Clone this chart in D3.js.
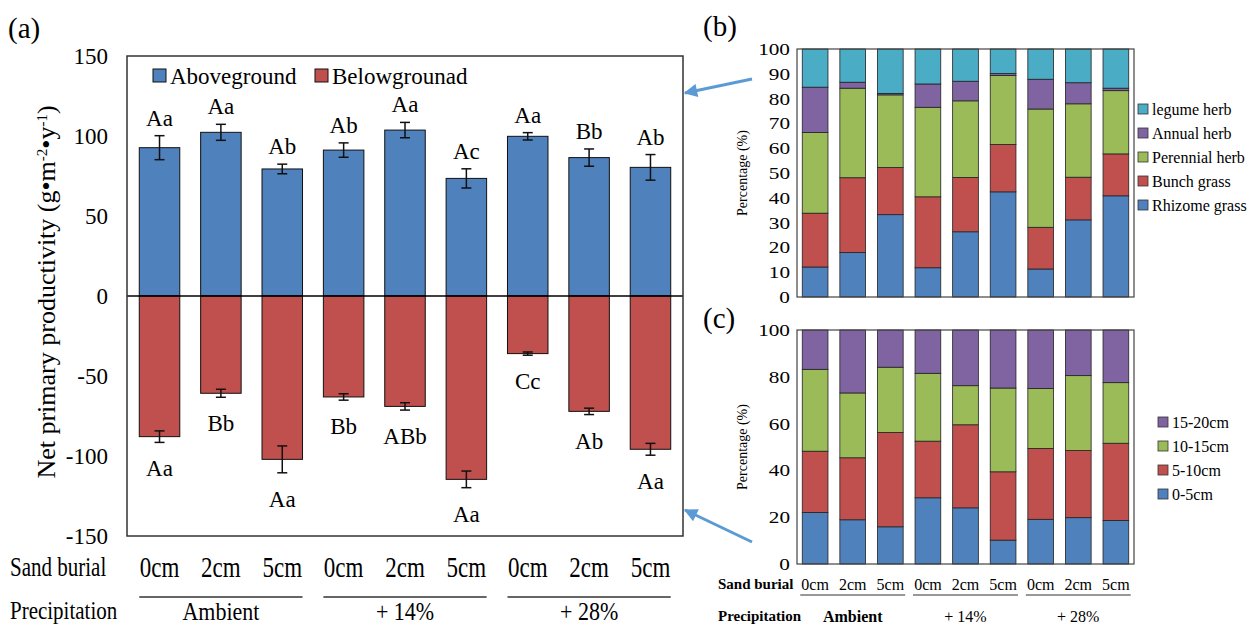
<!DOCTYPE html>
<html>
<head>
<meta charset="utf-8">
<script src="https://cdn.jsdelivr.net/npm/d3@7"></script>
<style>
  body { margin: 0; background: #fff; }
</style>
</head>
<body>
<svg width="1258" height="628"></svg>
<script>
// treatments
var burial = ["0cm", "2cm", "5cm", "0cm", "2cm", "5cm", "0cm", "2cm", "5cm"];
var precip = ["Ambient", "+ 14%", "+ 28%"];

// panel (a)
var above = [92.7, 102.3, 79.4, 91.2, 103.7, 73.5, 99.8, 86.5, 80.4];
var aboveErr = [7.5, 5, 3, 4.5, 4.8, 6, 2.3, 5.4, 8];
var below = [-87.9, -60.8, -102.1, -63.1, -69, -114.6, -36, -72.1, -95.8];
var belowErr = [3.6, 2.5, 8.4, 2, 2.3, 5.2, 1, 2, 3.7];
var aboveLetters = ["Aa", "Aa", "Ab", "Ab", "Aa", "Ac", "Aa", "Bb", "Ab"];
var belowLetters = ["Aa", "Bb", "Aa", "Bb", "ABb", "Aa", "Cc", "Ab", "Aa"];
var aTicks = [150, 100, 50, 0, -50, -100, -150];

// panel (b) functional groups (%)
var groupNames = ["Rhizome grass", "Bunch grass", "Perennial herb", "Annual herb", "legume herb"];
var rhizome = [12.1, 17.9, 33.2, 11.8, 26.3, 42.4, 11.3, 31.1, 40.8];
var bunch = [21.7, 30.2, 19.0, 28.6, 21.9, 19.1, 16.8, 17.2, 16.9];
var perennial = [32.5, 36.1, 29.3, 36.1, 30.9, 27.8, 47.7, 29.6, 25.5];
var annual = [18.3, 2.4, 0.6, 9.4, 7.9, 0.8, 12.0, 8.5, 1.0];
var legume = [15.4, 13.4, 17.9, 14.1, 13.0, 9.9, 12.2, 13.6, 15.8];
var bTicks = [0, 10, 20, 30, 40, 50, 60, 70, 80, 90, 100];

// panel (c) soil depth (%)
var depthNames = ["0-5cm", "5-10cm", "10-15cm", "15-20cm"];
var d0 = [22.0, 18.9, 15.9, 28.3, 24.0, 10.2, 19.1, 19.8, 18.6];
var d5 = [26.2, 26.5, 40.3, 24.2, 35.5, 29.2, 30.3, 28.7, 33.0];
var d10 = [35.0, 27.7, 27.9, 29.0, 16.7, 35.8, 25.6, 32.0, 25.9];
var d15 = [16.8, 26.9, 15.9, 18.5, 23.8, 24.8, 25.0, 19.5, 22.5];
var cTicks = [0, 20, 40, 60, 80, 100];

var blue = "#4f81bd", red = "#c0504d", green = "#9bbb59", purple = "#8064a2", cyan = "#4bacc6";
var serif = "'Liberation Serif', 'Times New Roman', serif";

var svg = d3.select("svg").style("font-family", serif);
var idx = d3.range(9);

// text that looks a bit stretched in the original figure
function stretched(parent, x, y, sx, sy) {
  return parent.append("text")
    .attr("transform", "translate(" + x + "," + y + ") scale(" + sx + "," + sy + ")")
    .attr("dy", "0.35em");
}

// ---------- panel (a) ----------
var xa = d3.scaleBand().domain(idx).range([127, 683]).paddingInner(0.34).paddingOuter(0.2);
var ya = d3.scaleLinear().domain([-150, 150]).range([536, 56]);

var ga = svg.append("g");

ga.selectAll(".tick-a").data(aTicks).enter().append("text")
  .attr("x", 108).attr("y", function(d) { return ya(d); })
  .attr("dy", "0.35em").attr("text-anchor", "end")
  .style("font-size", "23px").text(function(d) { return d; });

ga.selectAll(".bar-up").data(idx).enter().append("rect")
  .attr("x", function(i) { return xa(i); })
  .attr("width", xa.bandwidth())
  .attr("y", function(i) { return ya(above[i]); })
  .attr("height", function(i) { return ya(0) - ya(above[i]); })
  .style("fill", blue).style("stroke", "#111").style("stroke-width", 1);

ga.selectAll(".bar-down").data(idx).enter().append("rect")
  .attr("x", function(i) { return xa(i); })
  .attr("width", xa.bandwidth())
  .attr("y", ya(0))
  .attr("height", function(i) { return ya(below[i]) - ya(0); })
  .style("fill", red).style("stroke", "#111").style("stroke-width", 1);

function errorBars(vals, errs) {
  var g = ga.append("g").style("stroke", "#111").style("stroke-width", 1.5);
  idx.forEach(function(i) {
    var cx = xa(i) + xa.bandwidth() / 2;
    var y1 = ya(vals[i] + errs[i]), y2 = ya(vals[i] - errs[i]);
    g.append("line").attr("x1", cx).attr("x2", cx).attr("y1", y1).attr("y2", y2);
    g.append("line").attr("x1", cx - 5).attr("x2", cx + 5).attr("y1", y1).attr("y2", y1);
    g.append("line").attr("x1", cx - 5).attr("x2", cx + 5).attr("y1", y2).attr("y2", y2);
  });
}
errorBars(above, aboveErr);
errorBars(below, belowErr);

ga.selectAll(".lab-up").data(idx).enter().append("text")
  .attr("x", function(i) { return xa(i) + xa.bandwidth() / 2; })
  .attr("y", function(i) { return ya(above[i] + aboveErr[i]) - 10; })
  .attr("text-anchor", "middle").style("font-size", "23px")
  .text(function(i) { return aboveLetters[i]; });

ga.selectAll(".lab-down").data(idx).enter().append("text")
  .attr("x", function(i) { return xa(i) + xa.bandwidth() / 2; })
  .attr("y", function(i) { return ya(below[i] - belowErr[i]) + 26; })
  .attr("dy", "0.35em").attr("text-anchor", "middle").style("font-size", "23px")
  .text(function(i) { return belowLetters[i]; });

ga.append("line").attr("x1", 127).attr("x2", 683).attr("y1", ya(0)).attr("y2", ya(0))
  .style("stroke", "#000").style("stroke-width", 1.5);
ga.append("rect").attr("x", 127).attr("y", 56).attr("width", 556).attr("height", 480)
  .style("fill", "none").style("stroke", "#333").style("stroke-width", 1.5);

// legend (a)
var legA = [{ name: "Aboveground", c: blue, x: 153 }, { name: "Belowgrounad", c: red, x: 315 }];
legA.forEach(function(d) {
  ga.append("rect").attr("x", d.x).attr("y", 69).attr("width", 13).attr("height", 13)
    .style("fill", d.c).style("stroke", "#111").style("stroke-width", 1);
  ga.append("text").attr("x", d.x + 17).attr("y", 84).style("font-size", "23px").text(d.name);
});

// y title (a)
var yt = ga.append("text").attr("transform", "translate(55,292) rotate(-90)")
  .attr("text-anchor", "middle").style("font-size", "26px");
yt.append("tspan").text("Net primary productivity (g\u2022m");
yt.append("tspan").attr("baseline-shift", "super").style("font-size", "15px").text("-2");
yt.append("tspan").text("\u2022y");
yt.append("tspan").attr("baseline-shift", "super").style("font-size", "15px").text("-1");
yt.append("tspan").text(")");

ga.append("text").attr("x", 8).attr("y", 38).style("font-size", "29px").text("(a)");

// x labels (a)
stretched(ga, 10, 567, 1, 1.25).style("font-size", "21px").text("Sand burial");
stretched(ga, 10, 611, 1, 1.15).style("font-size", "21px").text("Precipitation");
idx.forEach(function(i) {
  stretched(ga, xa(i) + xa.bandwidth() / 2, 567, 1, 1.25)
    .attr("text-anchor", "middle").style("font-size", "23px").text(burial[i]);
});
precip.forEach(function(p, k) {
  var x0 = xa(k * 3), x1 = xa(k * 3 + 2) + xa.bandwidth();
  ga.append("line").attr("x1", x0).attr("x2", x1).attr("y1", 597).attr("y2", 597)
    .style("stroke", "#333").style("stroke-width", 1.5);
  stretched(ga, xa(k * 3 + 1) + xa.bandwidth() / 2, 611, 1, 1.15)
    .attr("text-anchor", "middle").style("font-size", "22px").text(p);
});

// ---------- stacked panels (b) and (c) ----------
function stacked(top, bottom, series, colors, ticks, legY, legX) {
  var x = d3.scaleBand().domain(idx).range([797, 1134]).paddingInner(0.316).paddingOuter(0.14);
  var y = d3.scaleLinear().domain([0, 100]).range([bottom, top]);
  var g = svg.append("g");

  ticks.forEach(function(d) {
    stretched(g, 790, y(d), 1.25, 1).attr("text-anchor", "end")
      .style("font-size", "17px").text(d);
  });

  var rows = idx.map(function(i) {
    var r = { i: i };
    series.forEach(function(s) { r[s.name] = s.v[i]; });
    return r;
  });
  var layers = d3.stack().keys(series.map(function(s) { return s.name; }))(rows);

  g.selectAll(".layer").data(layers).enter().append("g")
    .style("fill", function(d, k) { return colors[k]; })
    .selectAll("rect").data(function(d) { return d; }).enter().append("rect")
    .attr("x", function(d) { return x(d.data.i); })
    .attr("width", x.bandwidth())
    .attr("y", function(d) { return y(d[1]); })
    .attr("height", function(d) { return y(d[0]) - y(d[1]); })
    .style("stroke", "#222").style("stroke-width", 0.8);

  g.append("rect").attr("x", 797).attr("y", top).attr("width", 337).attr("height", bottom - top)
    .style("fill", "none").style("stroke", "#444").style("stroke-width", 1.2);

  g.append("text").attr("transform", "translate(747," + ((top + bottom) / 2) + ") rotate(-90)")
    .attr("text-anchor", "middle").style("font-size", "14px").text("Percentage (%)");

  // legend, top entry is the last series
  var rev = series.slice().reverse();
  rev.forEach(function(s, k) {
    var cy = legY + k * 24;
    g.append("rect").attr("x", legX).attr("y", cy - 5).attr("width", 10).attr("height", 10)
      .style("fill", colors[series.length - 1 - k]).style("stroke", "#333").style("stroke-width", 0.8);
    g.append("text").attr("x", legX + 14).attr("y", cy).attr("dy", "0.35em")
      .style("font-size", "16px").text(s.name);
  });
  return x;
}

stacked(49, 297, [
  { name: groupNames[0], v: rhizome },
  { name: groupNames[1], v: bunch },
  { name: groupNames[2], v: perennial },
  { name: groupNames[3], v: annual },
  { name: groupNames[4], v: legume }
], [blue, red, green, purple, cyan], bTicks, 109, 1138);

var xc = stacked(330, 564, [
  { name: depthNames[0], v: d0 },
  { name: depthNames[1], v: d5 },
  { name: depthNames[2], v: d10 },
  { name: depthNames[3], v: d15 }
], [blue, red, green, purple], cTicks, 422, 1158);

svg.append("text").attr("x", 703).attr("y", 36).style("font-size", "29px").text("(b)");
svg.append("text").attr("x", 703).attr("y", 328).style("font-size", "29px").text("(c)");

// x labels (c)
svg.append("text").attr("x", 718).attr("y", 584).attr("dy", "0.35em")
  .style("font-size", "15px").style("font-weight", "bold").text("Sand burial");
svg.append("text").attr("x", 718).attr("y", 616).attr("dy", "0.35em")
  .style("font-size", "15px").style("font-weight", "bold").text("Precipitation");
svg.selectAll(".xb-c").data(idx).enter().append("text")
  .attr("x", function(i) { return xc(i) + xc.bandwidth() / 2; })
  .attr("y", 584).attr("dy", "0.35em").attr("text-anchor", "middle")
  .style("font-size", "16px").text(function(i) { return burial[i]; });
precip.forEach(function(p, k) {
  var x0 = xc(k * 3) - 2, x1 = xc(k * 3 + 2) + xc.bandwidth() + 2;
  svg.append("line").attr("x1", x0).attr("x2", x1).attr("y1", 595).attr("y2", 595)
    .style("stroke", "#333").style("stroke-width", 1.2);
  svg.append("text").attr("x", xc(k * 3 + 1) + xc.bandwidth() / 2).attr("y", 616)
    .attr("dy", "0.35em").attr("text-anchor", "middle").style("font-size", "16px")
    .style("font-weight", k === 0 ? "bold" : "normal").text(p);
});

// arrows linking the panels
svg.append("defs").append("marker").attr("id", "head")
  .attr("viewBox", "0 0 10 10").attr("refX", 9).attr("refY", 5)
  .attr("markerWidth", 5).attr("markerHeight", 4.5).attr("orient", "auto")
  .append("path").attr("d", "M0,0L10,5L0,10z").style("fill", "#5b9bd5");
[[752, 79, 685, 93], [752, 542, 685, 510]].forEach(function(a) {
  svg.append("line").attr("x1", a[0]).attr("y1", a[1]).attr("x2", a[2]).attr("y2", a[3])
    .style("stroke", "#5b9bd5").style("stroke-width", 3).attr("marker-end", "url(#head)");
});
</script>
</body>
</html>
